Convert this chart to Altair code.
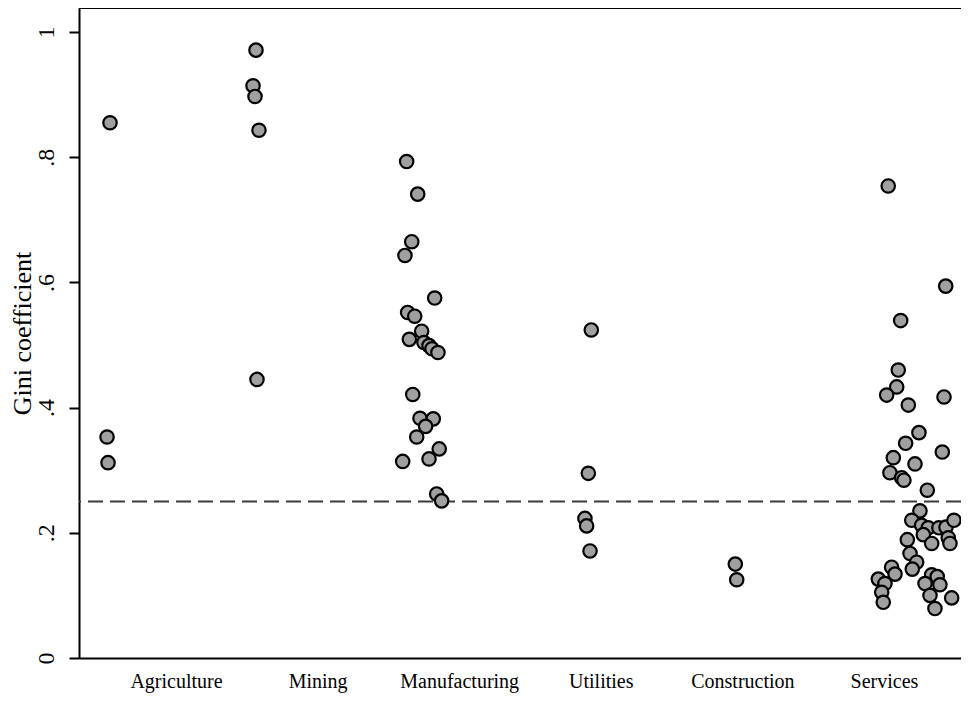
import altair as alt
import pandas as pd

categories = ["Agriculture", "Mining", "Manufacturing", "Utilities", "Construction", "Services"]

# Gini values per sector
agri_gini = [0.855, 0.353, 0.312]
agri_pos = [0.534, 0.513, 0.520]

mining_gini = [0.971, 0.914, 0.897, 0.843, 0.445]
mining_pos = [1.565, 1.544, 1.558, 1.586, 1.572]

manuf_gini = [0.793, 0.741, 0.665, 0.643, 0.575, 0.552, 0.546, 0.522, 0.509, 0.504,
              0.499, 0.494, 0.488, 0.421, 0.383, 0.382, 0.370, 0.353, 0.334, 0.318,
              0.314, 0.262, 0.251]
manuf_pos = [2.629, 2.707, 2.665, 2.617, 2.827, 2.636, 2.686, 2.735, 2.648, 2.751,
             2.787, 2.808, 2.850, 2.672, 2.723, 2.817, 2.763, 2.700, 2.859, 2.787,
             2.601, 2.841, 2.876]

util_gini = [0.524, 0.295, 0.223, 0.211, 0.171]
util_pos = [3.933, 3.912, 3.888, 3.900, 3.924]

constr_gini = [0.150, 0.125]
constr_pos = [4.950, 4.960]

serv_gini = [0.754, 0.594, 0.539, 0.460, 0.433, 0.420, 0.417, 0.404, 0.360, 0.343,
             0.329, 0.320, 0.310, 0.296, 0.288, 0.284, 0.268,
             0.235, 0.220, 0.212, 0.208, 0.208, 0.209, 0.220, 0.197, 0.192, 0.183,
             0.183, 0.189, 0.167, 0.153, 0.142, 0.145, 0.134, 0.126, 0.119, 0.105,
             0.089, 0.133, 0.130, 0.119, 0.117, 0.100, 0.096, 0.079]
serv_pos = [6.030, 6.436, 6.118, 6.101, 6.090, 6.019, 6.424, 6.172, 6.247, 6.153,
            6.412, 6.066, 6.219, 6.042, 6.125, 6.141, 6.306,
            6.254, 6.196, 6.266, 6.313, 6.388, 6.438, 6.494, 6.278, 6.454, 6.337,
            6.466, 6.165, 6.184, 6.231, 6.200, 6.054, 6.078, 5.960, 6.007, 5.984,
            5.995, 6.337, 6.376, 6.290, 6.395, 6.325, 6.478, 6.360]

threshold = [0.25]
y_ticks = [0, 0.2, 0.4, 0.6, 0.8, 1]

rows = []
for name, g, p in [
    ("Agriculture", agri_gini, agri_pos),
    ("Mining", mining_gini, mining_pos),
    ("Manufacturing", manuf_gini, manuf_pos),
    ("Utilities", util_gini, util_pos),
    ("Construction", constr_gini, constr_pos),
    ("Services", serv_gini, serv_pos),
]:
    for gi, pi in zip(g, p):
        rows.append({"sector": name, "gini": gi, "pos": pi})
df = pd.DataFrame(rows)

FONT = "Liberation Serif"
W, H = 882, 650

label_expr = " : ".join(
    [f"datum.value == {i + 1} ? '{c}'" for i, c in enumerate(categories)]
) + " : ''"

xscale = alt.Scale(domain=[0.315, 6.544], nice=False, zero=False)
yscale = alt.Scale(domain=[0, 1.0383], nice=False, zero=True)

points = alt.Chart(df).mark_circle(
    fill="#a0a0a0", stroke="black", strokeWidth=2.2, size=180, opacity=1
).encode(
    x=alt.X("pos:Q", scale=xscale, title=None,
            axis=alt.Axis(values=[1, 2, 3, 4, 5, 6], labelExpr=label_expr,
                          ticks=False, grid=False, domainColor="black",
                          domainWidth=2, labelFont=FONT, labelFontSize=20,
                          labelColor="black", labelPadding=13, labelFlush=False)),
    y=alt.Y("gini:Q", scale=yscale, title="Gini coefficient",
            axis=alt.Axis(values=y_ticks,
                          labelExpr="datum.value == 0 ? '0' : datum.value == 1 ? '1' : '.' + round(datum.value * 10)",
                          labelAngle=-90, labelAlign="center", labelBaseline="bottom",
                          tickSize=10, tickColor="black", tickWidth=2,
                          grid=False, domainColor="black", domainWidth=2,
                          labelFont=FONT, labelFontSize=24, labelColor="black",
                          labelPadding=11, labelFlush=False,
                          titleFont=FONT, titleFontSize=26, titleFontWeight="normal",
                          titleColor="black", titleX=-57, titleBaseline="middle",
                          titleAlign="center")),
)

dash = alt.Chart(pd.DataFrame({"y": threshold})).mark_rule(
    color="#3a3a3a", strokeWidth=2, strokeDash=[15, 7]
).encode(y=alt.Y("y:Q", scale=yscale))

topline = alt.Chart(pd.DataFrame({"a": [0]})).mark_rule(
    color="black", strokeWidth=2
).encode(x=alt.value(0), x2=alt.value(W), y=alt.value(0))

chart = alt.layer(dash, points, topline).properties(
    width=W, height=H,
    autosize=alt.AutoSizeParams(type="none"),
    padding={"left": 71, "top": 0, "right": 0, "bottom": 36},
).configure_view(stroke=None).configure(background="white")

chart.save("out.html", embed_options={"renderer": "svg", "actions": False})
